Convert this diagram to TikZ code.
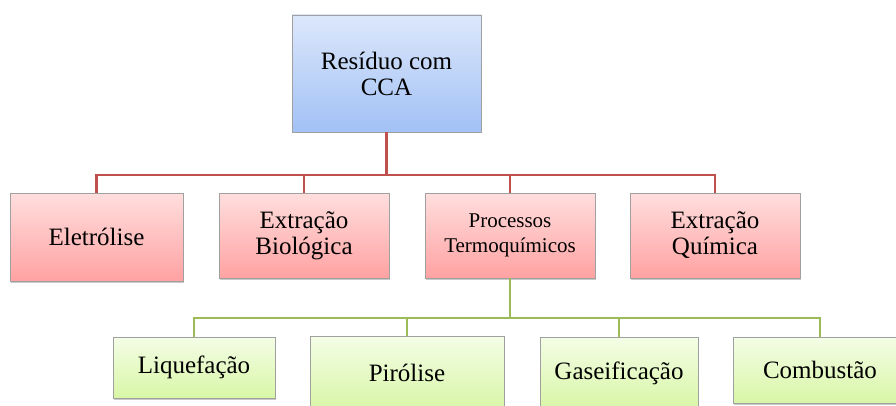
\documentclass[tikz,border=0pt]{standalone}
\usepackage{fontspec}
\setmainfont{Liberation Serif}
\usetikzlibrary{shadows}
\definecolor{bluetop}{HTML}{DCE7FB}
\definecolor{bluebot}{HTML}{A2C1F5}
\definecolor{pinktop}{HTML}{FFDEDE}
\definecolor{pinkbot}{HTML}{FFA2A2}
\definecolor{greentop}{HTML}{F4FDE6}
\definecolor{greenbot}{HTML}{D8F6A6}
\definecolor{redline}{HTML}{C0504D}
\definecolor{greenline}{HTML}{9BBB59}
\definecolor{boxborder}{HTML}{A0A0A0}
\tikzset{
  box/.style={draw=boxborder, line width=0.9pt, rectangle, align=center, inner sep=0pt,
    font=\fontsize{25}{26}\selectfont,
    drop shadow={shadow xshift=1.2pt, shadow yshift=-1.5pt, opacity=0.35, fill=black!60}},
  bluebox/.style={box, top color=bluetop, bottom color=bluebot},
  pinkbox/.style={box, top color=pinktop, bottom color=pinkbot},
  greenbox/.style={box, top color=greentop, bottom color=greenbot},
  redconn/.style={draw=redline, line width=2.7pt},
  greenconn/.style={draw=greenline, line width=2.7pt},
}
\begin{document}
\begin{tikzpicture}[x=1pt, y=-1pt]
\useasboundingbox (0,0) rectangle (896,406);
\fill[white] (0,0) rectangle (896,406);

\node[bluebox, minimum width=189pt, minimum height=117pt] (top) at (386.5,73.5) {Resíduo com\\CCA};

\node[pinkbox, minimum width=173pt, minimum height=88pt] (elet) at (96.5,237) {Eletrólise};
\node[pinkbox, minimum width=170pt, minimum height=85pt] (bio) at (304,235.5) {Extração\\Biológica};
\node[pinkbox, minimum width=170pt, minimum height=85pt, font=\fontsize{21}{25}\selectfont] (proc) at (510,235.5) {Processos\\Termoquímicos};
\node[pinkbox, minimum width=170pt, minimum height=85pt] (quim) at (715,235.5) {Extração\\Química};

\node[greenbox, minimum width=162pt, minimum height=61pt] (liq) at (194,367.5) {Liquefação};
\node[greenbox, minimum width=194pt, minimum height=74pt] (pir) at (407,373) {Pirólise};
\node[greenbox, minimum width=158pt, minimum height=72pt] (gas) at (619,373) {Gaseificação};
\node[greenbox, minimum width=174pt, minimum height=66pt] (comb) at (820,370) {Combustão};

\coordinate (rbus) at (386,175);
\coordinate (gbus) at (510,318);

\foreach \c in {elet,bio,proc,quim}
  \draw[redconn] (top.south) -- (top.south |- rbus) -| (\c.north);
\foreach \c in {liq,pir,gas,comb}
  \draw[greenconn] (proc.south) -- (proc.south |- gbus) -| (\c.north);
\end{tikzpicture}
\end{document}
